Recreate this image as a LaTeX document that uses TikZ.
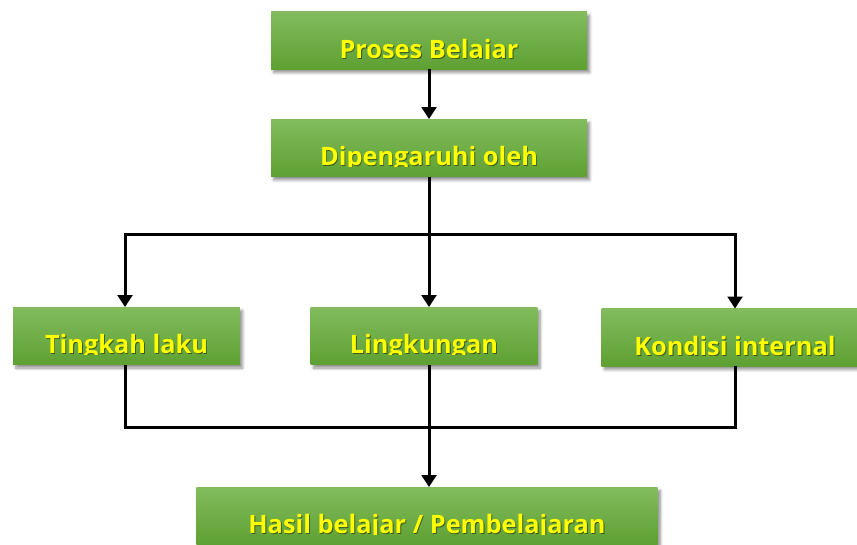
\documentclass[tikz,border=0pt]{standalone}
\usepackage{fontspec}
\setmainfont{Open Sans}
\usepackage{tikz}
\usetikzlibrary{arrows.meta,shadows.blur}

\definecolor{boxtop}{RGB}{130,188,94}
\definecolor{boxbot}{RGB}{94,160,50}
\definecolor{txtyellow}{RGB}{255,255,0}

\tikzset{
  box/.style={minimum height=43pt, inner sep=0pt, top color=boxtop, bottom color=boxbot,
    blur shadow={shadow xshift=2pt, shadow yshift=-2.5pt, shadow opacity=45, shadow blur steps=6}},
  txt/.style={anchor=base, inner sep=0pt, text=txtyellow},
  txtshade/.style={anchor=base, inner sep=0pt, text=black, opacity=.45},
  conn/.style={line width=2.25pt},
  arr/.style={conn, -{Triangle[width=11pt,length=9pt]}}
}

% text sits low in the box and is cut at the baseline
\newcommand\boxtext[2]{%
  \begin{scope}
    \clip (#1.north west) rectangle ([yshift=-13.6pt]#1.east);
    \node[txtshade] (#1-s) at ([xshift=.7pt,yshift=-14pt]#1.center) {#2};
    \node[txt] (#1-t) at ([yshift=-13.3pt]#1.center) {#2};
  \end{scope}}

\begin{document}
\begin{tikzpicture}[x=0.75pt,y=0.75pt,font=\bfseries\fontsize{19}{23}\selectfont]
  \useasboundingbox (0,0) rectangle (857,544);
  \clip (0,0) rectangle (857,544);

  \coordinate (join) at (428,117);

  \node [box,minimum width=237pt] (proses) at (429,503.5) {};
  \node [box,minimum width=237pt] (dipeng) at (429,396) {};
  \node [box,minimum width=170pt] (tingkah) at (126.5,208) {};
  \node [box,minimum width=170pt] (lingk) at (424,208) {};
  \node [box,minimum width=200pt] (kondisi) at (735,206.5) {};
  \node [box,minimum width=346pt] (hasil) at (427,28) {};

  \draw[arr] (proses) -- (dipeng);
  \draw[arr] (dipeng.south) -- (dipeng.south |- lingk.north);
  \draw[arr] (dipeng.south) -- ++(0,-58) -| (tingkah.north -| 125,0);
  \draw[arr] (dipeng.south) -- ++(0,-58) -| (kondisi.north);
  \draw[conn] (tingkah.south -| 125,0) |- (join) -| (kondisi.south);
  \draw[arr] (dipeng.south |- lingk.south) -- (dipeng.south |- hasil.north);

  \boxtext{proses}{Proses Belajar}
  \boxtext{dipeng}{Dipengaruhi oleh}
  \boxtext{tingkah}{Tingkah laku}
  \boxtext{lingk}{Lingkungan}
  \boxtext{kondisi}{Kondisi internal}
  \boxtext{hasil}{Hasil belajar / Pembelajaran}
\end{tikzpicture}
\end{document}
